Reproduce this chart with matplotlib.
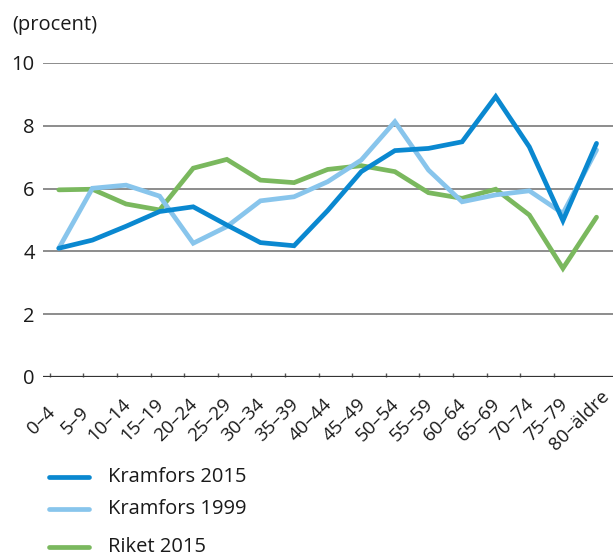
import matplotlib
matplotlib.use("Agg")
import matplotlib.pyplot as plt
from matplotlib.lines import Line2D
from matplotlib.transforms import ScaledTranslation
import numpy as np

categories = ["0–4", "5–9", "10–14", "15–19", "20–24", "25–29", "30–34", "35–39",
              "40–44", "45–49", "50–54", "55–59", "60–64", "65–69", "70–74", "75–79",
              "80–äldre"]
kramfors_2015 = [4.10, 4.36, 4.80, 5.27, 5.42, 4.84, 4.28, 4.18, 5.30, 6.54,
                 7.21, 7.28, 7.49, 8.93, 7.33, 4.98, 7.44]
kramfors_1999 = [4.10, 6.01, 6.11, 5.76, 4.26, 4.79, 5.61, 5.74, 6.22, 6.91,
                 8.13, 6.59, 5.58, 5.80, 5.93, 5.21, 7.23]
riket_2015 = [5.96, 5.98, 5.51, 5.32, 6.65, 6.93, 6.27, 6.19, 6.61, 6.73,
              6.54, 5.87, 5.69, 5.98, 5.16, 3.46, 5.09]
series_names = ["Kramfors 2015", "Kramfors 1999", "Riket 2015"]
colors = ["#0a88d0", "#88c5ec", "#7ab85e"]
yticks = [0, 2, 4, 6, 8, 10]

plt.rcParams['font.family'] = ['Open Sans', 'DejaVu Sans']
FS = 14.5

fig = plt.figure(figsize=(6.13, 5.56), dpi=100)
ax = fig.add_axes([43/613, 179/556, 1 - 43/613, (377-63)/556])

x = np.arange(len(categories))
for vals, col, name in [(riket_2015, colors[2], series_names[2]),
                        (kramfors_1999, colors[1], series_names[1]),
                        (kramfors_2015, colors[0], series_names[0])]:
    ax.plot(x, vals, color=col, lw=3.4, solid_capstyle='round',
            solid_joinstyle='miter', clip_on=False, zorder=3)

ax.set_ylim(0, 10)
ax.set_xlim(-0.47, 16.49)
ax.set_yticks(yticks)
ax.set_yticklabels([str(v) for v in yticks], fontsize=FS, color="#1a1a1a")
ax.tick_params(axis='y', length=0, pad=6)
for v in yticks[1:]:
    ax.axhline(v, color="#6e6e6e", lw=1.1, zorder=1)
ax.axhline(0, color="#333333", lw=1.6, zorder=2)

for s in ax.spines.values():
    s.set_visible(False)

ax.set_xticks(x)
ax.set_xticklabels(categories, fontsize=13.6, color="#1a1a1a", rotation=45,
                   ha='center', va='center', rotation_mode='anchor')
ax.tick_params(axis='x', length=0, pad=31)
off = ScaledTranslation(-17/100, 0, fig.dpi_scale_trans)
for lab in ax.get_xticklabels():
    lab.set_transform(lab.get_transform() + off)

ax.set_xticks(np.arange(16) - 0.27, minor=True)
ax.tick_params(axis='x', which='minor', direction='in', length=3.2,
               width=1.0, color="#555555")

fig.text(12/613, 1 - 25/556, "(procent)", fontsize=FS, color="#1a1a1a",
         ha='left', va='center')

leg_y = [476.7, 509, 546.5]
for name, col, yy in zip(series_names, colors, leg_y):
    yf = 1 - yy/556
    fig.add_artist(Line2D([49/613, 89/613], [yf, yf], color=col, lw=3.4,
                          solid_capstyle='round'))
    fig.text(108/613, yf, name, fontsize=FS, color="#1a1a1a", ha='left',
             va='center')

fig.savefig("out.png", dpi=100)
